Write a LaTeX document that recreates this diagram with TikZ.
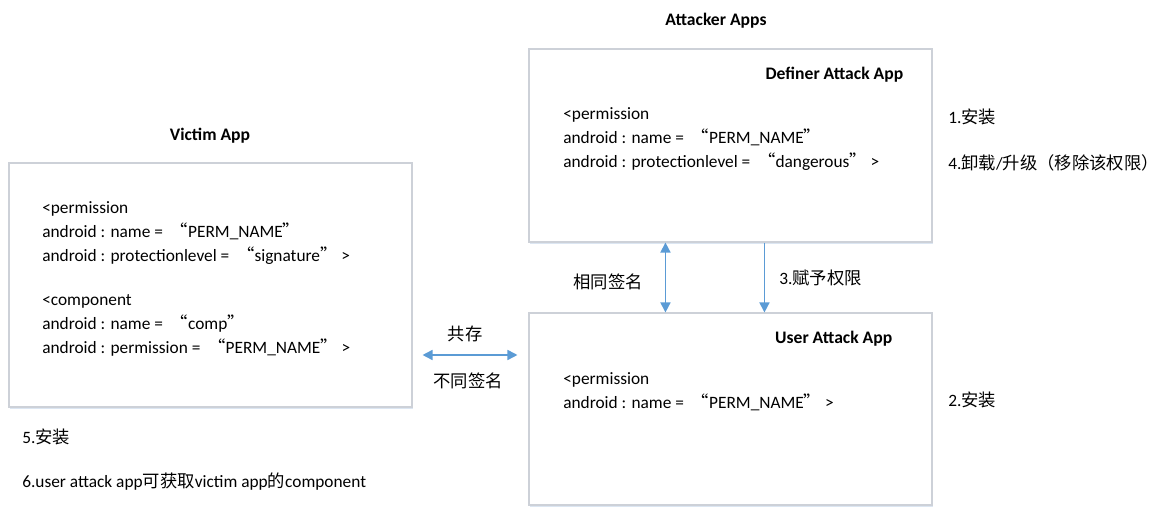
\documentclass[tikz,border=0pt]{standalone}
\usepackage{fontspec}
\setmainfont{Carlito}
\newfontfamily\cjk{Noto Sans CJK SC}
\usetikzlibrary{arrows.meta,fit,calc,shadows}
\definecolor{linkblue}{HTML}{5B9BD5}
\definecolor{boxline}{HTML}{CDD1D8}
\definecolor{boxshade}{HTML}{DCE6F2}
\newcommand{\lquo}{{\cjk “}}
\newcommand{\rquo}{{\cjk ”}}

\begin{document}
\begin{tikzpicture}[x=0.75pt,y=-0.75pt,>={Triangle[length=7.5pt,width=7.5pt]},
  every node/.style={font=\fontsize{13}{18}\selectfont},
  appbox/.style={draw=boxline,line width=0.8pt,fill=white,inner sep=0pt,
    drop shadow={shadow xshift=0.6pt,shadow yshift=-1.6pt,fill=boxshade,opacity=1}},
  title/.style={font=\fontsize{13.2}{18}\selectfont\bfseries},
  code/.style={align=left,anchor=north west,inner sep=0pt},
  steplabel/.style={anchor=west,inner sep=0pt},
  link/.style={linkblue,line width=1.2pt}]
\useasboundingbox (0,0) rectangle (1158,523);
% boxes
\node[appbox,fit={(9,163) (412,407)}] (victim) {};
\node[appbox,fit={(529,49) (932,242)}] (definer) {};
\node[appbox,fit={(529,313) (932,505)}] (user) {};
% titles
\node[title] (victimtitle) at (210,136) {Victim App};
\node[title] (attackertitle) at (716,21) {Attacker Apps};
\node[title,anchor=east] (definertitle) at (908,75) {Definer Attack App};
\node[title,anchor=east] (usertitle) at (897,339) {User Attack App};
% manifest text
\node[code] (victimperm) at (42,201) {<permission\\android : name = \ \lquo PERM\_NAME\rquo\\android : protectionlevel = \ \lquo signature\rquo\ >};
\node[code] (victimcomp) at (42,294) {<component\\android : name = \ \lquo comp\rquo\\android : permission = \ \lquo PERM\_NAME\rquo\ >};
\node[code] (definerperm) at (563,107) {<permission\\android : name = \ \lquo PERM\_NAME\rquo\\android : protectionlevel = \ \lquo dangerous\rquo\ >};
\node[code] (userperm) at (563,372) {<permission\\android : name = \ \lquo PERM\_NAME\rquo\ >};
% connectors
\draw[link,<->] ($(definer.south west)+(137,0)$) -- ($(user.north west)+(137,0)$);
\draw[link,->] ($(definer.south west)+(236,0)$) -- ($(user.north west)+(236,0)$);
\draw[link,<->] ($(victim.east)+(10,70)$) -- ($(user.west |- victim.east)+(-11,70)$);
% labels
\node (samesign) at (608,282) {\cjk 相同签名};
\node[steplabel] (grant) at (779,278) {3.{\cjk 赋予权限}};
\node (coexist) at (465,334) {\cjk 共存};
\node (diffsign) at (468,381) {\cjk 不同签名};
% steps
\node[steplabel] (stepone) at (948,117) {1.{\cjk 安装}};
\node[steplabel] (stepfour) at (948,163) {4.{\cjk 卸载}/{\cjk 升级（移除该权限）}};
\node[steplabel] (steptwo) at (948,400) {2.{\cjk 安装}};
\node[steplabel] (stepfive) at (22,437) {5.{\cjk 安装}};
\node[steplabel] (stepsix) at (22,482) {6.user attack app{\cjk 可获取}victim app{\cjk 的}component};
\end{tikzpicture}
\end{document}
